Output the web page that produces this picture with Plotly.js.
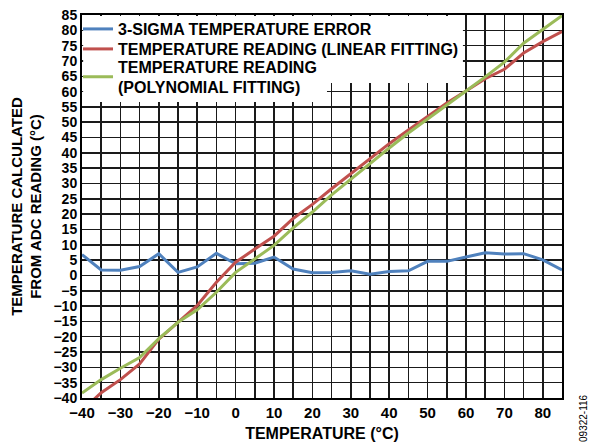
<!DOCTYPE html>
<html>
<head>
<meta charset="utf-8">
<script src="https://cdn.plot.ly/plotly-3.0.1.min.js"></script>
<style>html,body{margin:0;padding:0;background:#fff;}#chart{width:592px;height:446px;}</style>
</head>
<body>
<div id="chart"></div>
<script>
var temperature = [-40,-35,-30,-25,-20,-15,-10,-5,0,5,10,15,20,25,30,35,40,45,50,55,60,65,70,75,80,85];
var sigmaError = [6.8,1.8,1.7,2.9,7.1,1.0,2.8,7.2,3.8,4.0,6.0,2.1,0.9,1.0,1.5,0.4,1.3,1.5,4.6,4.6,6.0,7.4,7.0,7.1,5.1,1.8];
var linearReading = [-44,-38.3,-34.0,-28.9,-20.8,-15.3,-9.8,-2.2,4.3,8.6,12.8,18.6,23.2,28.3,33.2,38.0,43.0,47.5,51.9,56.3,60.2,64.2,67.3,72.6,76.3,79.6];
var polyReading = [-38.4,-34.0,-30.3,-26.8,-20.6,-15.3,-11.2,-5.5,1.0,5.5,9.8,15.5,20.7,26.3,31.5,36.6,41.6,46.5,51.0,55.7,60.2,64.8,69.6,75.8,80.2,84.8];
var seriesNames = ['3-SIGMA TEMPERATURE ERROR','TEMPERATURE READING (LINEAR FITTING)','TEMPERATURE READING<br>(POLYNOMIAL FITTING)'];
var seriesColors = ['#4F81BD','#C0504D','#9BBB59'];

var FONT = 'Liberation Sans, Arial, Helvetica, sans-serif';
var traces = [
  {x: temperature, y: sigmaError, name: seriesNames[0], legend: 'legend', mode: 'lines', line: {color: seriesColors[0], width: 3}},
  {x: temperature, y: linearReading, name: seriesNames[1], legend: 'legend2', mode: 'lines', line: {color: seriesColors[1], width: 3}},
  {x: temperature, y: polyReading, name: seriesNames[2], legend: 'legend3', mode: 'lines', line: {color: seriesColors[2], width: 3}}
];
var gridC = '#1a1a1a';
function leg(yc) {
  return {x: -0.0083, y: yc, xanchor: 'left', yanchor: 'middle', bgcolor: 'rgba(0,0,0,0)', itemwidth: 30,
          font: {family: FONT, size: 16, weight: 'bold', color: '#000'}};
}
var layout = {
  width: 592, height: 446,
  margin: {l: 82, r: 30, t: 15, b: 48},
  paper_bgcolor: '#fff', plot_bgcolor: '#fff',
  font: {family: FONT, color: '#000', size: 15, weight: 'bold'},
  showlegend: true,
  legend: leg(0.9634),
  legend2: leg(0.9112),
  legend3: leg(0.8381),
  xaxis: {range: [-40, 85], tick0: -40, dtick: 10, showgrid: true, gridcolor: gridC, gridwidth: 1.5,
          minor: {dtick: 5, showgrid: true, gridcolor: gridC, gridwidth: 1.5},
          zeroline: false, showline: true, mirror: true, linecolor: '#000', linewidth: 2,
          ticks: '', tickfont: {family: FONT, size: 15, weight: 'bold'},
          title: {text: 'TEMPERATURE (°C)', font: {family: FONT, size: 16, weight: 'bold'}, standoff: 8}},
  yaxis: {range: [-40, 85], tick0: -40, dtick: 5, showgrid: true, gridcolor: gridC, gridwidth: 1.5,
          zeroline: false, showline: true, mirror: true, linecolor: '#000', linewidth: 2,
          ticks: '', tickfont: {family: FONT, size: 14, weight: 'bold'},
          title: {text: 'TEMPERATURE CALCULATED<br>FROM ADC READING (°C)', font: {family: FONT, size: 15, weight: 'bold'}, standoff: 8}},
  shapes: [
    {type: 'rect', xref: 'x', yref: 'y', x0: -39.7, x1: 59.2, y0: 62.8, y1: 84.7, fillcolor: '#fff', line: {width: 0}, layer: 'above'},
    {type: 'rect', xref: 'x', yref: 'y', x0: -39.7, x1: 23.8, y0: 56.6, y1: 62.9, fillcolor: '#fff', line: {width: 0}, layer: 'above'}
  ],
  annotations: [
    {text: '09322-116', xref: 'paper', yref: 'paper', x: 1.046, y: -0.052, xanchor: 'center', yanchor: 'middle',
     textangle: -90, showarrow: false, font: {family: FONT, size: 10, weight: 'normal', color: '#000'}}
  ]
};
Plotly.newPlot('chart', traces, layout, {displayModeBar: false, staticPlot: true});
</script>
</body>
</html>
